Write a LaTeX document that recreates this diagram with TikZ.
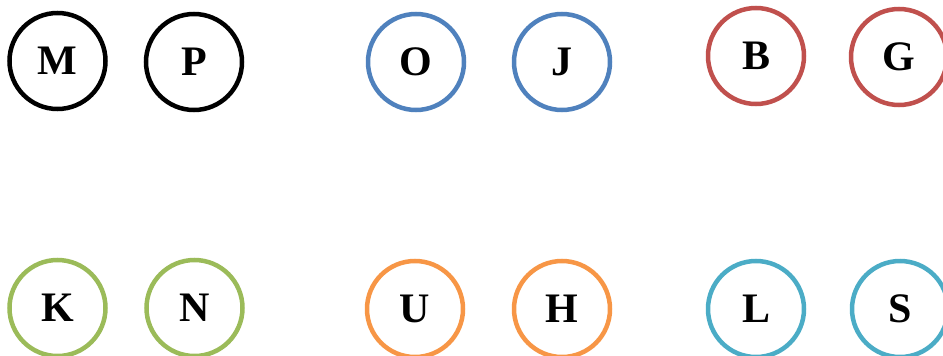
\documentclass[tikz,border=0pt]{standalone}
\usepackage{fontspec}
\setmainfont{Liberation Serif}
\definecolor{cblue}{RGB}{79,129,189}
\definecolor{cred}{RGB}{192,80,77}
\definecolor{cgreen}{RGB}{155,187,89}
\definecolor{corange}{RGB}{247,150,70}
\definecolor{cteal}{RGB}{75,172,198}
\tikzset{
  letter/.style={circle, draw=#1, line width=4.5pt, minimum size=96pt, inner sep=0pt,
    font=\fontsize{42}{44}\selectfont\bfseries, text=black},
}
\begin{document}
\begin{tikzpicture}[x=1pt,y=-1pt]
\useasboundingbox (0,0) rectangle (943,356);
\node[letter=black]   (M) at (57.5,61) {M};
\node[letter=black]   (P) at (194,62) {P};
\node[letter=cblue]   (O) at (416,62) {O};
\node[letter=cblue]   (J) at (562,62) {J};
\node[letter=cred]    (B) at (756,56) {B};
\node[letter=cred]    (G) at (899,57) {G};
\node[letter=cgreen]  (K) at (57.5,308) {K};
\node[letter=cgreen]  (N) at (194.5,308) {N};
\node[letter=corange] (U) at (415,309) {U};
\node[letter=corange] (H) at (562,309) {H};
\node[letter=cteal]   (L) at (756,309) {L};
\node[letter=cteal]   (S) at (900,309) {S};
\end{tikzpicture}
\end{document}
